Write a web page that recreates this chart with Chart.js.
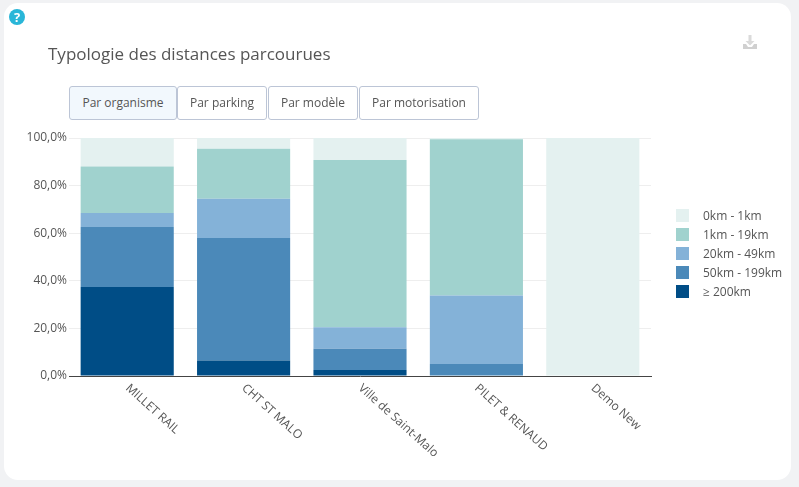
<!DOCTYPE html>
<html lang="fr">
<head>
<meta charset="utf-8">
<title>Typologie des distances parcourues</title>
<script src="https://cdn.jsdelivr.net/npm/chart.js@4/dist/chart.umd.min.js"></script>
<style>
    html, body { margin: 0; padding: 0; width: 799px; height: 487px; overflow: hidden; background: #f1f2f4; font-family: "Open Sans", sans-serif; }
    #card { position: absolute; left: 4px; top: 3px; width: 787px; height: 477px; background: #fff; border-radius: 14px; }
    #chartBox { position: absolute; left: 0; top: 0; width: 799px; height: 487px; }
    #title { position: absolute; left: 48px; top: 42px; font-size: 17px; line-height: 24px; color: #555; }
    #help { position: absolute; left: 9px; top: 9px; width: 16px; height: 16px; border-radius: 50%; background: #29b6d8; color: #fff; font: bold 13px/16px "Open Sans", sans-serif; text-align: center; }
    #download { position: absolute; left: 742px; top: 34px; }
    .tab { position: absolute; top: 86px; height: 32px; box-sizing: content-box; border: 1px solid #bcc5d6; border-radius: 3px; background: #fff; color: #555; font-size: 12px; line-height: 32px; text-align: center; }
    .tab.active { background: #f2f8fd; }
    #legend { position: absolute; left: 676px; top: 206px; }
    .legend-row { position: relative; height: 19px; line-height: 19px; font-size: 12px; color: #555; padding-left: 27px; white-space: nowrap; }
    .legend-row i { position: absolute; left: 0; top: 3px; width: 13px; height: 13px; }
</style>
</head>
<body>
<div id="card"></div>
<div id="chartBox"><canvas id="distanceChart" width="799" height="487"></canvas></div>
<div id="help">?</div>
<div id="title">Typologie des distances parcourues</div>
<svg id="download" width="16" height="16" viewBox="0 0 16 16">
    <path d="M6.500 1h3v6h3L8 11.500 3.500 7h3z" fill="#dadada"/>
    <path d="M1 10h3l2 3h4l2-3h3v5H1z" fill="#d0d0d0"/>
</svg>
<div id="tabs"></div>
<div id="legend"></div>

<script>
const categories = ['MILLET RAIL', 'CHT ST MALO', 'Ville de Saint-Malo', 'PILET & RENAUD', 'Demo New'];
const yTicks = [0, 20, 40, 60, 80, 100];

// valeurs en % par tranche de distance
const over200km = [37.4, 6.5, 2.5, 0, 0];
const from50to199km = [25.2, 51.5, 9, 5, 0];
const from20to49km = [5.9, 16.5, 9, 28.8, 0];
const from1to19km = [19.5, 21, 70.3, 65.7, 0];
const from0to1km = [12, 4.5, 9.2, 0.5, 100];

const seriesNames = ['0km - 1km', '1km - 19km', '20km - 49km', '50km - 199km', '≥ 200km'];
const seriesColors = ['#e4f1f0', '#a0d2ce', '#84b2d8', '#4b89b9', '#004d86'];
const seriesValues = [from0to1km, from1to19km, from20to49km, from50to199km, over200km];

const tabNames = ['Par organisme', 'Par parking', 'Par modèle', 'Par motorisation'];
const tabLefts = [69, 177, 268, 359];
const tabWidths = [106, 88, 88, 118];

document.addEventListener("DOMContentLoaded", function () {
    // Boutons
    const tabs = document.getElementById('tabs');
    tabNames.forEach((name, i) => {
        const tab = document.createElement('div');
        tab.className = i === 0 ? 'tab active' : 'tab';
        tab.style.left = tabLefts[i] + 'px';
        tab.style.width = tabWidths[i] + 'px';
        tab.textContent = name;
        tabs.appendChild(tab);
    });

    // Légende
    const legend = document.getElementById('legend');
    seriesNames.forEach((name, i) => {
        const row = document.createElement('div');
        row.className = 'legend-row';
        row.innerHTML = `<i style="background:${seriesColors[i]}"></i>`;
        row.appendChild(document.createTextNode(name));
        legend.appendChild(row);
    });

    // Les libellés tournés partent du tick vers le bas à droite
    const labelsFromTick = {
        id: 'labelsFromTick',
        afterLayout(chart) {
            const x = chart.scales.x;
            x._getXAxisLabelAlignment = () => 'left';
            x._labelItems = null;
        }
    };

    // Le premier jeu de données est empilé en bas
    const datasets = seriesNames.map((name, i) => ({
        label: name,
        data: seriesValues[i],
        backgroundColor: seriesColors[i],
        barPercentage: 0.8,
        categoryPercentage: 1
    })).reverse();

    new Chart(document.getElementById('distanceChart').getContext('2d'), {
        type: 'bar',
        data: { labels: categories, datasets: datasets },
        plugins: [labelsFromTick],
        options: {
            responsive: false,
            animation: false,
            layout: { padding: { left: 0, right: 148, top: 138, bottom: 0 } },
            plugins: {
                legend: { display: false },
                tooltip: { enabled: false }
            },
            scales: {
                x: {
                    stacked: true,
                    afterFit(scale) { scale.height = 111; },
                    grid: { display: false },
                    border: { color: '#444', width: 1 },
                    ticks: {
                        color: '#555',
                        font: { family: '"Open Sans"', size: 12 },
                        minRotation: -42,
                        maxRotation: -42,
                        autoSkip: false,
                        padding: -3
                    }
                },
                y: {
                    stacked: true,
                    min: 0,
                    max: 100,
                    afterFit(scale) { scale.width = 69; },
                    afterBuildTicks(scale) { scale.ticks = yTicks.map(v => ({ value: v })); },
                    grid: { color: '#eeeeee', drawTicks: false },
                    border: { display: false },
                    ticks: {
                        color: '#555',
                        font: { family: '"Open Sans"', size: 12 },
                        padding: 2,
                        callback: v => v.toFixed(1).replace('.', ',') + '%'
                    }
                }
            }
        }
    });
});
</script>
</body>
</html>
